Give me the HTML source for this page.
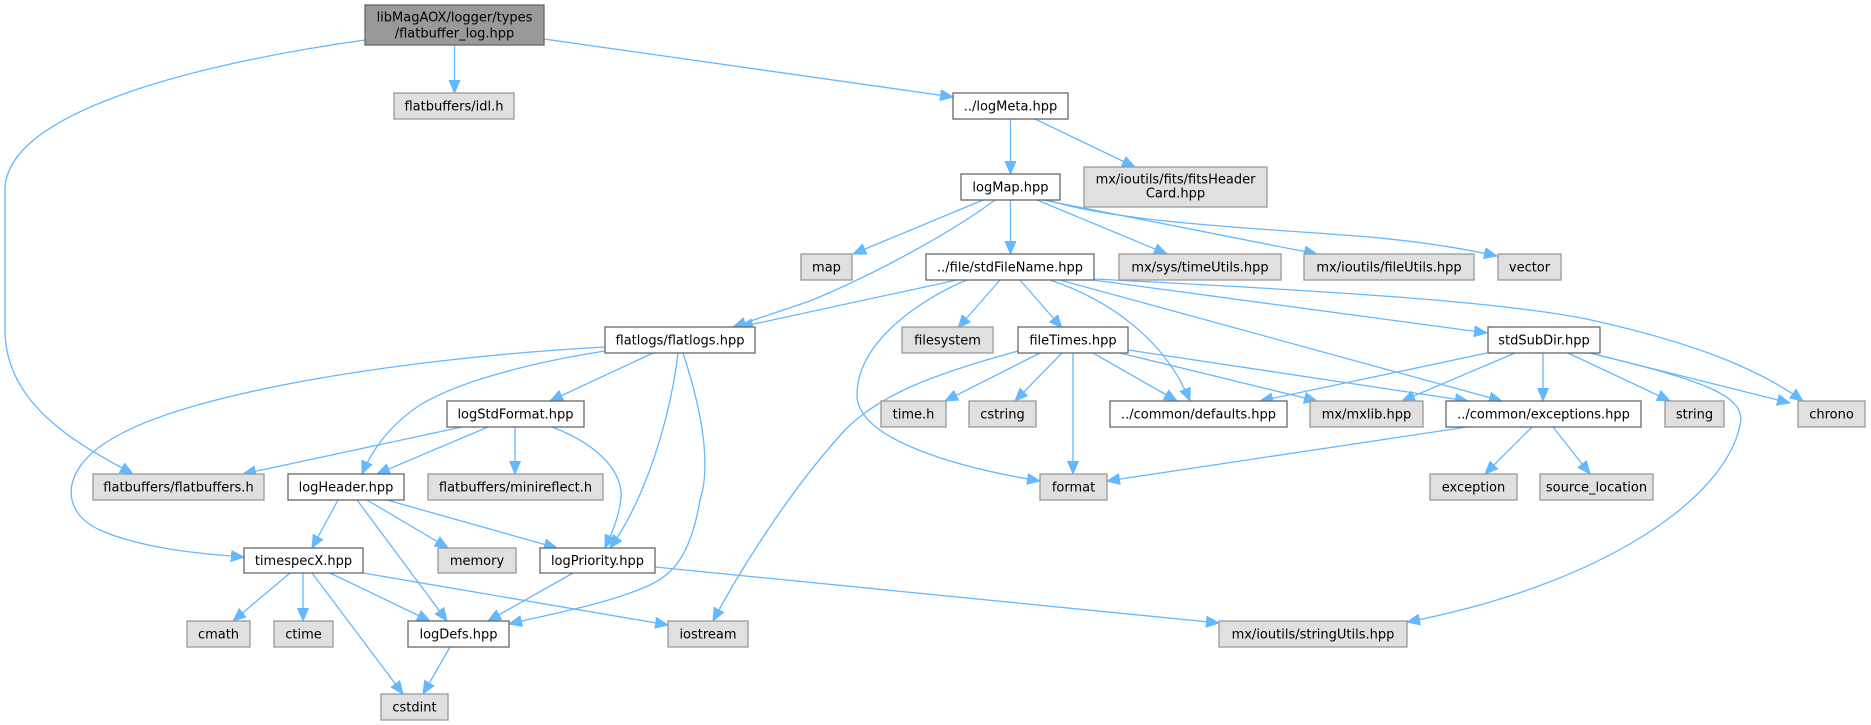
<!DOCTYPE html>
<html><head><meta charset="utf-8"><style>
html,body{margin:0;padding:0;background:#fff;}
svg{display:block;}
text{font-family:"DejaVu Sans","Liberation Sans",sans-serif;font-size:13px;fill:#000;text-anchor:middle;}
.w{fill:#fff;stroke:#666;stroke-width:1.3;}
.g{fill:#e0e0e0;stroke:#999;stroke-width:1.3;}
.r{fill:#999;stroke:#666;stroke-width:1.3;}
.e{fill:none;stroke:#63b8ff;stroke-width:1.3;marker-end:url(#a);}
</style></head><body>
<svg width="1871" height="725" viewBox="0 0 1871 725" xmlns="http://www.w3.org/2000/svg">
<defs>
<marker id="a" markerUnits="userSpaceOnUse" markerWidth="15" markerHeight="13" refX="13" refY="6" orient="auto">
<path d="M0,0.5 L13,6 L0,11.5 z" fill="#63b8ff" stroke="#63b8ff" stroke-width="1"/>
</marker>
</defs>

<!-- edges -->
<path class="e" d="M454.5,45 L454.5,93"/>
<path class="e" d="M544,39 L953,97"/>
<path class="e" d="M365,40 C215,61 5,108 5,190 L5,330 C5,410 90,450 133,474"/>
<path class="e" d="M1010.5,119 L1010.5,174"/>
<path class="e" d="M1035,119 L1135,167"/>
<path class="e" d="M983,200 L853,254"/>
<path class="e" d="M995,200 C955,230 880,272 810,301 L733,327"/>
<path class="e" d="M1010.5,200 L1010.5,254"/>
<path class="e" d="M1037,200 L1167,254"/>
<path class="e" d="M1043,200 L1317,254"/>
<path class="e" d="M1045,199 C1120,225 1300,230 1380,238 C1430,243 1470,250 1497,256"/>
<path class="e" d="M957,280 L740,327"/>
<path class="e" d="M967,280 C925,297 857,340 857,395 C857,440 960,468 1040,481"/>
<path class="e" d="M1000,280 L958,328"/>
<path class="e" d="M1020,280 L1062,328"/>
<path class="e" d="M1050,280 C1110,300 1165,340 1190,401"/>
<path class="e" d="M1060,280 L1502,401"/>
<path class="e" d="M1093,280 L1487,333"/>
<path class="e" d="M1094,279 C1350,292 1520,303 1600,322 C1700,345 1760,370 1803,401"/>
<path class="e" d="M1018,351 C930,375 880,395 845,430 C790,490 740,570 713,621"/>
<path class="e" d="M1040,353 L945,401"/>
<path class="e" d="M1062,353 L1015,401"/>
<path class="e" d="M1073,353 L1073,474"/>
<path class="e" d="M1093,353 L1177,401"/>
<path class="e" d="M1120,353 L1317,401"/>
<path class="e" d="M1128,350 L1468,401"/>
<path class="e" d="M1487,353 L1260,401"/>
<path class="e" d="M1515,353 L1402,401"/>
<path class="e" d="M1543,353 L1543,401"/>
<path class="e" d="M1568,353 L1670,401"/>
<path class="e" d="M1590,353 L1790,403"/>
<path class="e" d="M1590,353 C1700,380 1748,395 1740,425 C1725,500 1600,585 1407,622"/>
<path class="e" d="M1467,427 L1107,481"/>
<path class="e" d="M1532,427 L1485,474"/>
<path class="e" d="M1553,427 L1590,474"/>
<path class="e" d="M605,347 C420,357 190,390 110,440 C60,470 60,512 100,530 C140,548 200,554 244,557"/>
<path class="e" d="M605,351 C560,358 470,375 420,405 C390,425 372,450 362,474"/>
<path class="e" d="M653,353 L550,401"/>
<path class="e" d="M678,353 C670,420 645,500 610,548"/>
<path class="e" d="M683,353 C705,420 710,470 700,500 C690,560 670,575 650,585 C610,603 560,612 509,624"/>
<path class="e" d="M462,427 L243,474"/>
<path class="e" d="M488,427 L377,474"/>
<path class="e" d="M515,427 L515,474"/>
<path class="e" d="M552,427 C600,445 627,475 620,505 C617,522 612,532 605,548"/>
<path class="e" d="M338,500 L312,548"/>
<path class="e" d="M357,500 L447,621"/>
<path class="e" d="M367,500 L448,548"/>
<path class="e" d="M387,500 L557,548"/>
<path class="e" d="M290,573 L233,621"/>
<path class="e" d="M303,573 L303,621"/>
<path class="e" d="M312,573 L403,694"/>
<path class="e" d="M330,573 L430,621"/>
<path class="e" d="M363,573 L668,625"/>
<path class="e" d="M573,573 L488,621"/>
<path class="e" d="M655,567 L1219,623"/>
<path class="e" d="M450,647 L423,694"/>

<!-- nodes -->
<rect class="r" x="365" y="5" width="179" height="40"/>
<text x="454.5" y="21.5">libMagAOX/logger/types</text>
<text x="454.5" y="37.5">/flatbuffer_log.hpp</text>

<rect class="g" x="394" y="93" width="120" height="26"/><text x="454" y="110.5">flatbuffers/idl.h</text>
<rect class="w" x="953" y="93" width="115" height="26"/><text x="1010.5" y="110.5">../logMeta.hpp</text>

<rect class="g" x="1084" y="167" width="183" height="40"/>
<text x="1175.5" y="183.5">mx/ioutils/fits/fitsHeader</text>
<text x="1175.5" y="197.5">Card.hpp</text>
<rect class="w" x="961" y="174" width="99" height="26"/><text x="1010.5" y="191.5">logMap.hpp</text>

<rect class="g" x="801" y="254" width="51" height="26"/><text x="826.5" y="271.5">map</text>
<rect class="w" x="926" y="254" width="168" height="26"/><text x="1010" y="271.5">../file/stdFileName.hpp</text>
<rect class="g" x="1119" y="254" width="162" height="26"/><text x="1200" y="271.5">mx/sys/timeUtils.hpp</text>
<rect class="g" x="1304" y="254" width="170" height="26"/><text x="1389" y="271.5">mx/ioutils/fileUtils.hpp</text>
<rect class="g" x="1498" y="254" width="63" height="26"/><text x="1529.5" y="271.5">vector</text>

<rect class="w" x="605" y="327" width="150" height="26"/><text x="680" y="344.5">flatlogs/flatlogs.hpp</text>
<rect class="g" x="902" y="327" width="91" height="26"/><text x="947.5" y="344.5">filesystem</text>
<rect class="w" x="1018" y="327" width="110" height="26"/><text x="1073" y="344.5">fileTimes.hpp</text>
<rect class="w" x="1488" y="327" width="112" height="26"/><text x="1544" y="344.5">stdSubDir.hpp</text>

<rect class="w" x="447" y="401" width="137" height="26"/><text x="515.5" y="418.5">logStdFormat.hpp</text>
<rect class="g" x="881" y="401" width="65" height="26"/><text x="913.5" y="418.5">time.h</text>
<rect class="g" x="969" y="401" width="67" height="26"/><text x="1002.5" y="418.5">cstring</text>
<rect class="w" x="1110" y="401" width="177" height="26"/><text x="1198.5" y="418.5">../common/defaults.hpp</text>
<rect class="g" x="1310" y="401" width="113" height="26"/><text x="1366.5" y="418.5">mx/mxlib.hpp</text>
<rect class="w" x="1446" y="401" width="195" height="26"/><text x="1543.5" y="418.5">../common/exceptions.hpp</text>
<rect class="g" x="1665" y="401" width="59" height="26"/><text x="1694.5" y="418.5">string</text>
<rect class="g" x="1798" y="401" width="67" height="26"/><text x="1831.5" y="418.5">chrono</text>

<rect class="g" x="93" y="474" width="171" height="26"/><text x="178.5" y="491.5">flatbuffers/flatbuffers.h</text>
<rect class="w" x="288" y="474" width="116" height="26"/><text x="346" y="491.5">logHeader.hpp</text>
<rect class="g" x="428" y="474" width="175" height="26"/><text x="515.5" y="491.5">flatbuffers/minireflect.h</text>
<rect class="g" x="1040" y="474" width="67" height="26"/><text x="1073.5" y="491.5">format</text>
<rect class="g" x="1430" y="474" width="87" height="26"/><text x="1473.5" y="491.5">exception</text>
<rect class="g" x="1540" y="474" width="113" height="26"/><text x="1596.5" y="491.5">source_location</text>

<rect class="w" x="244" y="548" width="119" height="25"/><text x="303.5" y="565">timespecX.hpp</text>
<rect class="g" x="438" y="548" width="78" height="25"/><text x="477" y="565">memory</text>
<rect class="w" x="540" y="548" width="115" height="25"/><text x="597.5" y="565">logPriority.hpp</text>

<rect class="g" x="187" y="621" width="63" height="26"/><text x="218.5" y="638.5">cmath</text>
<rect class="g" x="274" y="621" width="59" height="26"/><text x="303.5" y="638.5">ctime</text>
<rect class="w" x="408" y="621" width="101" height="26"/><text x="458.5" y="638.5">logDefs.hpp</text>
<rect class="g" x="668" y="621" width="80" height="26"/><text x="708" y="638.5">iostream</text>
<rect class="g" x="1219" y="621" width="188" height="26"/><text x="1313" y="638.5">mx/ioutils/stringUtils.hpp</text>

<rect class="g" x="381" y="694" width="67" height="26"/><text x="414.5" y="711.5">cstdint</text>
</svg>
</body></html>
